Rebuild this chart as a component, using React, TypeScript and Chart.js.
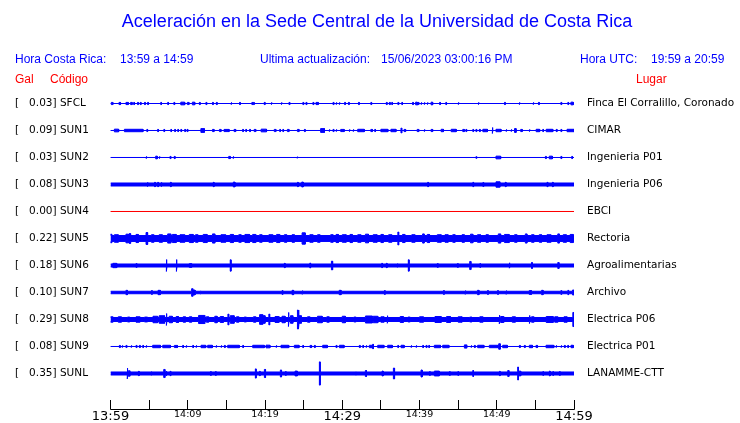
import { useEffect, useRef } from 'react';
import { Chart, registerables } from 'chart.js';

Chart.register(...registerables);

// ---------- data ----------
const TITLE = 'Aceleración en la Sede Central de la Universidad de Costa Rica';
const LOCAL_RANGE = '13:59 a 14:59';
const UTC_RANGE = '19:59 a 20:59';
const LAST_UPDATE = '15/06/2023 03:00:16 PM';

const STATION_CODES = ['SFCL', 'SUN1', 'SUN2', 'SUN3', 'SUN4', 'SUN5', 'SUN6', 'SUN7', 'SUN8', 'SUN9', 'SUNL'];
const PEAK_GAL = [0.03, 0.09, 0.03, 0.08, 0.0, 0.22, 0.18, 0.1, 0.29, 0.08, 0.35];
const PLACES = [
  'Finca El Corralillo, Coronado',
  'CIMAR',
  'Ingenieria P01',
  'Ingenieria P06',
  'EBCI',
  'Rectoria',
  'Agroalimentarias',
  'Archivo',
  'Electrica P06',
  'Electrica P01',
  'LANAMME-CTT',
];
// minutes after 13:59
const X_TICK_MINUTES = [0, 5, 10, 15, 20, 25, 30, 35, 40, 45, 50, 55, 60];
const X_TICK_LABELS = ['13:59', '', '14:09', '', '14:19', '', '14:29', '', '14:39', '', '14:49', '', '14:59'];
const MAJOR_TICK_LABELS = ['13:59', '14:29', '14:59'];

// background half-amplitude of each trace (percent of trace spacing)
const BASE_AMP = [0, 0, 0, 5.6, 0, 11, 5.6, 4.6, 7.4, 0, 5.6];

// bursts: [start minute, duration minutes, half-amplitude]
const SFCL_BURSTS = [
  [0.1, 0.2, 4], [1.1, 0.2, 4], [2.0, 0.3, 4], [2.6, 0.2, 4], [3.0, 0.1, 4], [3.5, 0.1, 4], [3.85, 0.1, 4],
  [4.4, 0.1, 4], [4.8, 0.1, 4], [6.5, 0.1, 4], [7.4, 0.1, 4], [8.2, 0.1, 4], [9.1, 0.5, 5], [9.95, 0.2, 4],
  [10.6, 0.3, 5], [11.5, 0.1, 4], [12.35, 0.1, 4], [13.2, 0.1, 4], [13.7, 0.1, 4], [15.6, 0.1, 4],
  [16.7, 0.1, 4], [18.3, 0.1, 4], [18.5, 0.1, 4], [19.9, 0.1, 4], [20.8, 0.1, 4], [22.1, 0.1, 4],
  [23.1, 0.1, 4], [24.9, 0.1, 4], [25.3, 0.1, 4], [26.2, 0.1, 4], [26.6, 0.3, 4], [28.8, 0.1, 4],
  [29.2, 0.1, 4], [29.6, 0.1, 4], [30.3, 0.1, 4], [30.8, 0.1, 4], [32.1, 0.1, 4], [33.7, 0.1, 4],
  [35.7, 0.1, 4], [36.1, 0.1, 4], [36.4, 0.1, 4], [37.2, 0.1, 4], [37.7, 0.1, 4], [39.1, 0.1, 4],
  [39.5, 0.2, 5], [39.8, 0.1, 4], [40.2, 0.1, 4], [40.6, 0.1, 4], [41.0, 0.1, 4], [41.5, 0.2, 5],
  [42.6, 0.1, 4], [43.4, 0.1, 4], [45.0, 0.1, 4], [47.6, 0.1, 4], [51.0, 0.1, 4], [52.9, 0.1, 4],
  [54.7, 0.1, 4], [55.4, 0.1, 4], [58.3, 0.1, 4], [59.2, 0.1, 4], [59.6, 0.3, 5],
];
const SUN1_BURSTS = [
  [0.5, 0.55, 5], [1.8, 2.4, 4.5], [4.7, 0.1, 4], [6.1, 0.1, 4], [6.9, 0.1, 4], [7.8, 0.1, 4], [8.3, 0.1, 4],
  [8.7, 0.1, 4], [9.1, 0.1, 4], [9.6, 0.1, 4], [9.9, 0.1, 4], [11.7, 0.45, 7], [13.2, 0.2, 4], [14.1, 0.2, 4],
  [14.7, 0.65, 4], [16.0, 0.2, 4], [17.1, 0.1, 4], [17.5, 0.1, 4], [18.0, 0.1, 4], [18.6, 0.2, 4],
  [19.5, 0.7, 5], [21.2, 0.2, 4], [21.9, 0.1, 4], [22.3, 0.1, 4], [22.9, 0.2, 4], [24.2, 0.2, 4],
  [25.1, 0.1, 4], [27.2, 0.5, 7], [28.3, 0.1, 4], [28.8, 0.1, 4], [29.2, 0.1, 4], [29.8, 0.45, 4],
  [30.9, 0.1, 4], [31.4, 0.1, 4], [32.0, 0.85, 4.5], [33.7, 0.2, 4], [34.2, 0.1, 4], [35.0, 0.9, 4.5],
  [36.3, 0.65, 4.5], [37.6, 0.1, 9], [38.0, 0.2, 4], [39.7, 0.2, 4], [40.6, 0.1, 4], [41.5, 0.2, 4],
  [42.8, 0.3, 4.5], [44.1, 0.65, 4.5], [45.6, 0.2, 4], [46.0, 0.1, 4], [46.9, 0.1, 4], [47.3, 0.1, 4],
  [47.75, 0.1, 4], [48.2, 0.6, 4.5], [49.4, 0.1, 11], [49.9, 0.65, 4.5], [51.2, 0.1, 4], [51.85, 0.1, 4],
  [52.3, 0.2, 7], [53.1, 0.2, 4], [54.2, 0.1, 4], [55.1, 0.45, 4.5], [55.95, 0.1, 4], [56.4, 0.85, 4.5],
  [57.7, 0.1, 4], [58.3, 0.1, 4], [59.1, 0.9, 4.5],
];
const SUN2_BURSTS = [
  [4.6, 0.1, 4], [5.85, 0.2, 5], [6.3, 0.1, 4], [7.7, 0.1, 4], [8.25, 0.1, 4], [15.3, 0.2, 4],
  [15.86, 0.1, 4], [24.15, 0.1, 3], [47.3, 0.1, 3], [49.9, 0.6, 5], [56.3, 0.1, 4], [56.8, 0.4, 5],
  [58.3, 0.1, 4], [59.7, 0.1, 4],
];
const SUN3_BURSTS = [
  [4.75, 0.1, 8], [5.7, 0.1, 8], [6.1, 0.1, 8], [6.55, 0.1, 8], [7.75, 0.1, 8], [13.3, 0.1, 8],
  [15.9, 0.2, 9], [24.2, 0.1, 8], [24.75, 0.2, 9], [41.05, 0.1, 8], [46.9, 0.1, 8], [48.2, 0.1, 7.5],
  [49.9, 0.5, 10], [51.1, 0.1, 8], [56.5, 0.1, 8], [57.2, 0.1, 8],
];
const SUN4_BURSTS: number[][] = [];
const SUN5_BURSTS = [
  [0, 0.15, 16], [0.5, 0.5, 14], [2.0, 0.3, 16], [2.4, 0.2, 18], [3.3, 0.3, 15], [4.6, 0.2, 22], [5.3, 0.3, 14],
  [6.3, 0.4, 14], [7.4, 0.4, 17], [8.0, 0.5, 15], [9.0, 0.6, 14], [10.2, 0.5, 15], [11.0, 0.3, 14],
  [12.0, 0.5, 15], [13.2, 0.3, 17], [14.3, 0.6, 14], [15.5, 0.4, 15], [16.6, 0.3, 14], [17.4, 0.6, 15],
  [18.4, 0.4, 15], [19.3, 0.3, 14], [20.5, 0.5, 14], [21.5, 0.4, 15], [22.5, 0.3, 14], [23.5, 0.3, 14],
  [24.8, 0.4, 21], [25.8, 0.4, 14], [26.8, 0.3, 14], [28.5, 0.3, 14], [29.2, 0.3, 15], [30.0, 0.5, 14],
  [31.0, 0.3, 15], [32.0, 0.4, 14], [33.0, 0.4, 16], [34.0, 0.5, 14], [35.0, 0.3, 15], [36.0, 0.4, 14],
  [37.2, 0.1, 24], [37.8, 0.3, 15], [39.0, 0.4, 14], [40.4, 0.2, 17], [41.0, 0.3, 15], [42.3, 0.5, 14],
  [43.3, 0.4, 14], [44.3, 0.3, 14], [45.5, 0.3, 14], [46.6, 0.3, 16], [47.5, 0.4, 14], [48.6, 0.3, 14],
  [50.2, 0.3, 17], [51.0, 0.6, 15], [52.3, 0.3, 14], [53.7, 0.2, 17], [54.5, 0.3, 14], [55.5, 0.3, 14],
  [56.5, 0.5, 14], [57.9, 0.2, 17], [58.6, 0.4, 14], [59.5, 0.4, 15],
];
const SUN6_BURSTS = [
  [0.3, 0.5, 8], [3.3, 0.1, 7], [7.2, 0.1, 22], [8.5, 0.1, 22], [10.2, 0.3, 7], [15.5, 0.1, 21],
  [22.5, 0.1, 8], [25.8, 0.1, 9], [28.6, 0.15, 16], [35.1, 0.1, 8], [35.7, 0.1, 8], [37.1, 0.1, 7],
  [38.55, 0.1, 21], [42.3, 0.1, 7], [44.9, 0.1, 7], [46.5, 0.15, 15], [47.8, 0.1, 7], [51.6, 0.1, 10],
  [54.5, 0.1, 11], [57.9, 0.15, 11],
];
const SUN7_BURSTS = [
  [2.0, 0.2, 8], [5.3, 0.1, 7], [6.15, 0.3, 8], [10.5, 0.15, 14], [10.65, 0.3, 9], [11.6, 0.1, 6],
  [22.2, 0.1, 7], [23.5, 0.2, 8], [24.8, 0.1, 7], [29.6, 0.25, 8], [35.45, 0.1, 7], [43.1, 0.1, 7],
  [45.9, 0.1, 7], [47.5, 0.2, 8], [48.8, 0.1, 7], [50.1, 0.1, 7], [51.2, 0.1, 7], [54.2, 0.3, 7],
  [55.8, 0.2, 8], [58.3, 0.1, 7], [59.2, 0.1, 8], [59.8, 0.2, 9],
];
const SUN8_BURSTS = [
  [0, 0.3, 10], [1.0, 0.4, 10], [2.2, 0.3, 9], [3.3, 0.5, 10], [4.4, 0.4, 9], [5.5, 0.6, 12], [6.3, 0.7, 14],
  [7.2, 0.1, 22], [7.6, 0.4, 12], [8.5, 0.3, 11], [9.4, 0.3, 10], [10.2, 0.3, 10], [11.4, 0.8, 15],
  [12.4, 0.3, 10], [13.5, 0.3, 12], [14.2, 0.4, 11], [15.2, 0.1, 20], [15.5, 0.5, 14], [16.3, 0.3, 10],
  [17.3, 0.3, 9], [18.5, 0.3, 10], [19.3, 0.4, 18], [19.7, 0.3, 14], [20.5, 0.1, 20], [21.3, 0.5, 11],
  [22.2, 0.4, 12], [23.0, 0.1, 26], [23.3, 0.3, 14], [24.2, 0.1, 35], [24.4, 0.3, 14], [25.5, 0.3, 10],
  [26.8, 0.6, 12], [28.0, 0.3, 10], [30.0, 0.4, 12], [31.5, 0.3, 9], [33.0, 0.9, 13], [34.0, 0.6, 12],
  [35.0, 0.4, 10], [35.8, 0.1, 14], [37.5, 0.4, 11], [38.5, 0.3, 9], [40.0, 0.5, 10], [42.0, 0.8, 11],
  [43.5, 0.5, 11], [45.0, 0.5, 10], [46.5, 0.3, 9], [47.8, 0.4, 10], [50.3, 0.1, 16], [50.5, 0.4, 11],
  [52.0, 0.4, 10], [54.2, 0.1, 15], [54.5, 0.3, 10], [56.4, 0.9, 11], [57.5, 0.4, 10], [58.7, 0.4, 10],
  [59.85, 0.15, 26],
];
const SUN9_BURSTS = [
  [1.15, 0.1, 4], [1.5, 0.1, 4], [2.0, 0.1, 4], [2.66, 0.1, 4], [3.3, 0.1, 4], [3.74, 0.1, 4],
  [4.17, 0.1, 4], [4.6, 0.1, 4], [5.46, 1.0, 4.5], [6.76, 1.0, 4.5], [8.27, 0.4, 4], [9.34, 0.1, 4],
  [9.78, 0.1, 4], [10.64, 0.1, 4], [11.07, 0.1, 4], [11.72, 0.6, 4.5], [12.58, 0.6, 4.5], [13.66, 0.1, 4],
  [14.31, 0.1, 4], [14.74, 0.1, 4], [15.17, 1.5, 4.5], [17.11, 0.1, 4], [18.41, 1.5, 4.5], [20.13, 0.5, 5],
  [21.43, 0.1, 4], [22.07, 1.0, 4.5], [23.8, 0.6, 4.5], [24.88, 0.1, 4], [25.83, 0.2, 4], [26.39, 0.1, 4],
  [27.47, 0.6, 4.5], [29.19, 0.1, 4], [29.63, 0.6, 4.5], [32.21, 0.1, 4], [32.65, 0.1, 4], [33.08, 0.1, 4],
  [33.51, 0.4, 4.5], [33.94, 0.1, 8], [34.59, 0.8, 4.5], [35.88, 0.6, 4.5], [37.18, 0.1, 4], [37.61, 0.4, 4.5],
  [38.9, 0.1, 4], [39.55, 0.1, 4], [40.41, 0.1, 4], [40.84, 0.1, 4], [41.19, 0.1, 4], [41.92, 0.8, 4.5],
  [43.0, 0.8, 4.5], [45.81, 0.3, 6], [46.67, 0.1, 4], [47.1, 0.1, 4], [47.53, 0.8, 4.5], [49.04, 1.1, 4.5],
  [50.25, 0.2, 10], [50.77, 0.6, 4.5], [52.93, 0.1, 4], [53.57, 0.1, 4], [54.22, 0.4, 4.5], [55.08, 0.2, 4],
  [56.38, 1.0, 4.5], [57.67, 0.1, 4], [58.32, 0.1, 4], [58.75, 0.1, 4], [59.18, 0.1, 4], [59.61, 0.3, 4.5],
];
const SUNL_BURSTS = [
  [2.14, 0.1, 20], [2.3, 0.2, 10], [3.61, 0.1, 8], [5.25, 0.1, 7], [6.89, 0.15, 15], [7.19, 0.1, 9],
  [7.7, 0.1, 8], [12.93, 0.1, 7], [13.57, 0.1, 7], [18.75, 0.1, 17], [19.27, 0.1, 8], [19.92, 0.15, 15],
  [21.99, 0.15, 13], [22.63, 0.1, 7], [23.89, 0.3, 9], [27.04, 0.1, 43], [31.7, 0.1, 6], [32.99, 0.15, 11],
  [35.15, 0.15, 9], [36.62, 0.15, 20], [40.2, 0.15, 13], [41.28, 0.1, 7], [41.92, 0.65, 9], [43.86, 0.1, 7],
  [44.95, 0.1, 7], [46.89, 0.1, 11], [50.34, 0.1, 8], [51.42, 0.15, 11], [52.71, 0.1, 24], [52.9, 0.2, 9],
  [55.95, 0.1, 7], [56.81, 0.1, 9], [57.24, 0.1, 7], [58.1, 0.1, 7],
];
const BURSTS = [
  SFCL_BURSTS, SUN1_BURSTS, SUN2_BURSTS, SUN3_BURSTS, SUN4_BURSTS, SUN5_BURSTS,
  SUN6_BURSTS, SUN7_BURSTS, SUN8_BURSTS, SUN9_BURSTS, SUNL_BURSTS,
];
const TRACE_COLORS = ['blue', 'blue', 'blue', 'blue', 'red', 'blue', 'blue', 'blue', 'blue', 'blue', 'blue'];

// ---------- styling ----------
const BLUE = '#0000ff';
const RED = '#ff0000';
const COLOR_MAP: Record<string, string> = { blue: BLUE, red: RED };
const SPAN = 60;

// step-shaped envelope: each burst holds its amplitude from start to end
function envelope(base: number, bursts: number[][]) {
  const list = [...bursts].sort((a, b) => a[0] - b[0]);
  const pts: { x: number; a: number }[] = [{ x: 0, a: base }];
  list.forEach(([s, d, a], i) => {
    const next = i + 1 < list.length ? list[i + 1][0] : SPAN;
    const end = Math.min(s + d, next, SPAN);
    pts.push({ x: s, a: base });
    pts.push({ x: s, a });
    pts.push({ x: end, a });
    pts.push({ x: end, a: base });
  });
  pts.push({ x: SPAN, a: base });
  return pts;
}

// one closed outline per trace: top edge left->right, bottom edge right->left
function buildDatasets() {
  return STATION_CODES.map((code, row) => {
    const env = envelope(BASE_AMP[row], BURSTS[row]);
    const color = COLOR_MAP[TRACE_COLORS[row]];
    const top = env.map((p) => ({ x: p.x, y: row - p.a / 100 }));
    const bottom = env.map((p) => ({ x: p.x, y: row + p.a / 100 })).reverse();
    return {
      label: code,
      data: [...top, ...bottom],
      borderColor: color,
      backgroundColor: color,
      borderWidth: 1,
      pointRadius: 0,
      pointHoverRadius: 0,
      tension: 0,
      borderJoinStyle: 'miter',
      fill: 'shape',
    };
  });
}

const headerPlugin = {
  id: 'header',
  afterDraw(chart: any) {
    const ctx = chart.ctx as CanvasRenderingContext2D;
    ctx.save();
    ctx.textBaseline = 'middle';
    ctx.fillStyle = BLUE;
    ctx.textAlign = 'center';
    ctx.font = '18px "Liberation Sans", Arial, sans-serif';
    ctx.fillText(TITLE, 377, 22);
    ctx.textAlign = 'left';
    ctx.font = '12px "Liberation Sans", Arial, sans-serif';
    ctx.fillText('Hora Costa Rica:', 15, 60);
    ctx.fillText(LOCAL_RANGE, 120, 60);
    ctx.fillText('Ultima actualización:', 260, 60);
    ctx.fillText(LAST_UPDATE, 381, 60);
    ctx.fillText('Hora UTC:', 580, 60);
    ctx.fillText(UTC_RANGE, 651, 60);
    ctx.fillStyle = RED;
    ctx.fillText('Gal', 15, 80);
    ctx.fillText('Código', 50, 80);
    ctx.fillText('Lugar', 636, 80);
    ctx.restore();
  },
};

const axisPlugin = {
  id: 'timeAxis',
  afterDraw(chart: any) {
    const ctx = chart.ctx as CanvasRenderingContext2D;
    const xs = chart.scales.x;
    const bottom = chart.chartArea.bottom;
    ctx.save();
    ctx.strokeStyle = '#000';
    ctx.lineWidth = 1;
    ctx.beginPath();
    ctx.moveTo(xs.left, bottom + 0.5);
    ctx.lineTo(xs.right + 0.5, bottom + 0.5);
    xs.ticks.forEach((t: any) => {
      const px = Math.floor(xs.getPixelForValue(t.value)) + 0.5;
      ctx.moveTo(px, bottom + 0.5);
      ctx.lineTo(px, bottom - 9);
    });
    ctx.stroke();
    ctx.restore();
  },
};

function rowLabel(i: number) {
  return `[   ${PEAK_GAL[i].toFixed(2)}] ${STATION_CODES[i]}`;
}

export default function App() {
  const ref = useRef<HTMLCanvasElement | null>(null);
  useEffect(() => {
    document.body.style.margin = '0';
    if (!ref.current) return;
    const yMin = -0.5741;
    const yMax = 11.315;
    const rowTicks = (scale: any) => {
      scale.ticks = STATION_CODES.map((_, i) => ({ value: i }));
    };
    const chart = new Chart(ref.current, {
      type: 'line',
      data: { datasets: buildDatasets() as any },
      plugins: [headerPlugin, axisPlugin],
      options: {
        animation: false,
        responsive: false,
        events: [],
        layout: { padding: { top: 88, left: 15, right: 0, bottom: 0 } },
        plugins: {
          legend: { display: false },
          tooltip: { enabled: false },
          title: { display: false },
        },
        scales: {
          x: {
            type: 'linear',
            min: 0,
            max: SPAN,
            afterBuildTicks: (scale: any) => {
              scale.ticks = X_TICK_MINUTES.map((v) => ({ value: v }));
            },
            afterFit: (scale: any) => {
              scale.height = 14;
              scale.paddingLeft = 0;
              scale.paddingRight = 0;
            },
            grid: { display: false, drawTicks: false },
            border: { display: false },
            ticks: {
              autoSkip: false,
              maxRotation: 0,
              padding: 0,
              color: '#000',
              callback: (_v: any, index: number) => X_TICK_LABELS[index],
              font: (c: any) => {
                const lbl = X_TICK_LABELS[X_TICK_MINUTES.indexOf(c.tick?.value)];
                return {
                  family: '"DejaVu Sans", sans-serif',
                  size: MAJOR_TICK_LABELS.includes(lbl) ? 13 : 9.5,
                };
              },
            },
          },
          y: {
            type: 'linear',
            position: 'left',
            reverse: true,
            min: yMin,
            max: yMax,
            afterBuildTicks: rowTicks,
            afterFit: (scale: any) => {
              scale.width = 95.5;
              scale.paddingTop = 0;
              scale.paddingBottom = 0;
            },
            grid: { display: false, drawTicks: false },
            border: { display: false },
            ticks: {
              crossAlign: 'far',
              padding: 0,
              color: '#000',
              font: { family: '"DejaVu Sans", sans-serif', size: 10.5 },
              callback: (v: any) => rowLabel(Math.round(Number(v))),
            },
          },
          y2: {
            type: 'linear',
            position: 'right',
            reverse: true,
            min: yMin,
            max: yMax,
            afterBuildTicks: rowTicks,
            afterFit: (scale: any) => {
              scale.width = 166;
              scale.paddingTop = 0;
              scale.paddingBottom = 0;
            },
            grid: { display: false, drawTicks: false },
            border: { display: false },
            ticks: {
              crossAlign: 'near',
              padding: 13,
              color: '#000',
              font: { family: '"DejaVu Sans", sans-serif', size: 10.5 },
              callback: (v: any) => PLACES[Math.round(Number(v))],
            },
          },
        },
      } as any,
    });
    return () => chart.destroy();
  }, []);
  return (
    <div style={{ position: 'fixed', left: 0, top: 0, width: 740, height: 423, background: '#fff' }}>
      <canvas ref={ref} width={740} height={423} style={{ display: 'block' }} />
    </div>
  );
}
